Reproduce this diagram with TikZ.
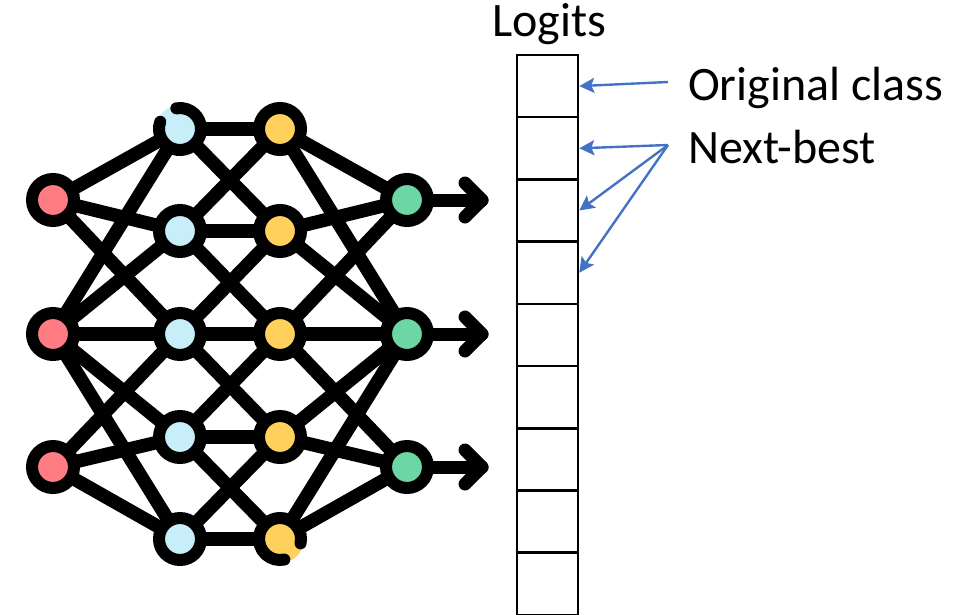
\documentclass[tikz,border=0pt]{standalone}
\usepackage{fontspec}
\setmainfont{Carlito}
\usetikzlibrary{arrows.meta,backgrounds,calc}
\definecolor{inred}{HTML}{FF7C83}
\definecolor{hidblue}{HTML}{C8EEFA}
\definecolor{hidyellow}{HTML}{FFD15C}
\definecolor{outgreen}{HTML}{6DD6A5}
\definecolor{arrowblue}{HTML}{4472C4}
\begin{document}
\begin{tikzpicture}[x=1pt,y=-1pt,
  neuron/.style={circle,draw=black,line width=12pt,minimum size=42pt,inner sep=0pt},
  bare/.style={circle,minimum size=48pt,inner sep=0pt},
  ringarc/.style={line width=12pt,line cap=round},
  link/.style={line width=13.5pt},
  shaft/.style={line width=13pt,line cap=round},
  chevron/.style={line width=13pt,line cap=round,line join=round},
  cell/.style={draw=black,line width=2.6pt,minimum width=61pt,minimum height=62.2pt,inner sep=0pt},
  callout/.style={draw=arrowblue,line width=2.4pt,-{Stealth[length=15pt,width=15pt,inset=3pt]}},
  lbl/.style={font=\fontsize{48}{56}\selectfont,inner sep=0pt}
]
\useasboundingbox (0,0) rectangle (963,615);

% input layer
\node[neuron,fill=inred] (r1) at (53,200) {};
\node[neuron,fill=inred] (r2) at (53,334) {};
\node[neuron,fill=inred] (r3) at (53,467) {};
% hidden layer 1
\node[bare,fill=hidblue] (b1) at (180,129) {};
\node[neuron,fill=hidblue] (b2) at (180,231) {};
\node[neuron,fill=hidblue] (b3) at (180,334) {};
\node[neuron,fill=hidblue] (b4) at (180,437) {};
\node[neuron,fill=hidblue] (b5) at (180,539) {};
% hidden layer 2
\node[neuron,fill=hidyellow] (y1) at (280,129) {};
\node[neuron,fill=hidyellow] (y2) at (280,231) {};
\node[neuron,fill=hidyellow] (y3) at (280,334) {};
\node[neuron,fill=hidyellow] (y4) at (280,437) {};
\node[bare,fill=hidyellow] (y5) at (280,539) {};
% output layer
\node[neuron,fill=outgreen] (g1) at (407,200) {};
\node[neuron,fill=outgreen] (g2) at (407,334) {};
\node[neuron,fill=outgreen] (g3) at (407,467) {};

% broken rings
\draw[ringarc] ($(b1.center)+(-160:21)$) arc[start angle=-160,end angle=-460,radius=21];
\draw[ringarc] ($(y5.center)+(12:21)$) arc[start angle=12,end angle=-282,radius=21];

% arrow tips of outputs
\coordinate (t1) at (482,200);
\coordinate (t2) at (482,334);
\coordinate (t3) at (482,467);

\begin{pgfonlayer}{background}
\foreach \a/\b in {r1/b1,r1/b2,r1/b3,r2/b1,r2/b2,r2/b3,r2/b4,r2/b5,r3/b3,r3/b4,r3/b5,
  b1/y1,b1/y2,b2/y1,b2/y2,b2/y3,b3/y2,b3/y3,b3/y4,b4/y3,b4/y4,b4/y5,b5/y4,b5/y5,
  y1/g1,y2/g1,y3/g1,y1/g2,y2/g2,y3/g2,y4/g2,y5/g2,y3/g3,y4/g3,y5/g3}
  \draw[link] (\a.center) -- (\b.center);
\draw[shaft] (g1.center) -- (t1);
\draw[shaft] (g2.center) -- (t2);
\draw[shaft] (g3.center) -- (t3);
\end{pgfonlayer}
\foreach \t in {t1,t2,t3}
  \draw[chevron] ($(\t)+(-17,-17)$) -- (\t) -- ($(\t)+(-17,17)$);

% logits column
\foreach \i in {1,...,9}
  \node[cell] (c\i) at (547.5,{55+62.2*(\i-0.5)}) {};

% labels
\node[lbl,anchor=base] (logits) at (549,37) {Logits};
\node[lbl,anchor=base west] (orig) at (688,101) {Original class};
\node[lbl,anchor=base west] (nb) at (688,163) {Next-best};

% callout arrows
\coordinate (o1) at (668,82);
\coordinate (n1) at (668,145);
\draw[callout] (o1) -- (c1.east);
\draw[callout] (n1) -- (c2.east);
\draw[callout] (n1) -- (c3.east);
\draw[callout] (n1) -- (c4.east);
\end{tikzpicture}
\end{document}
